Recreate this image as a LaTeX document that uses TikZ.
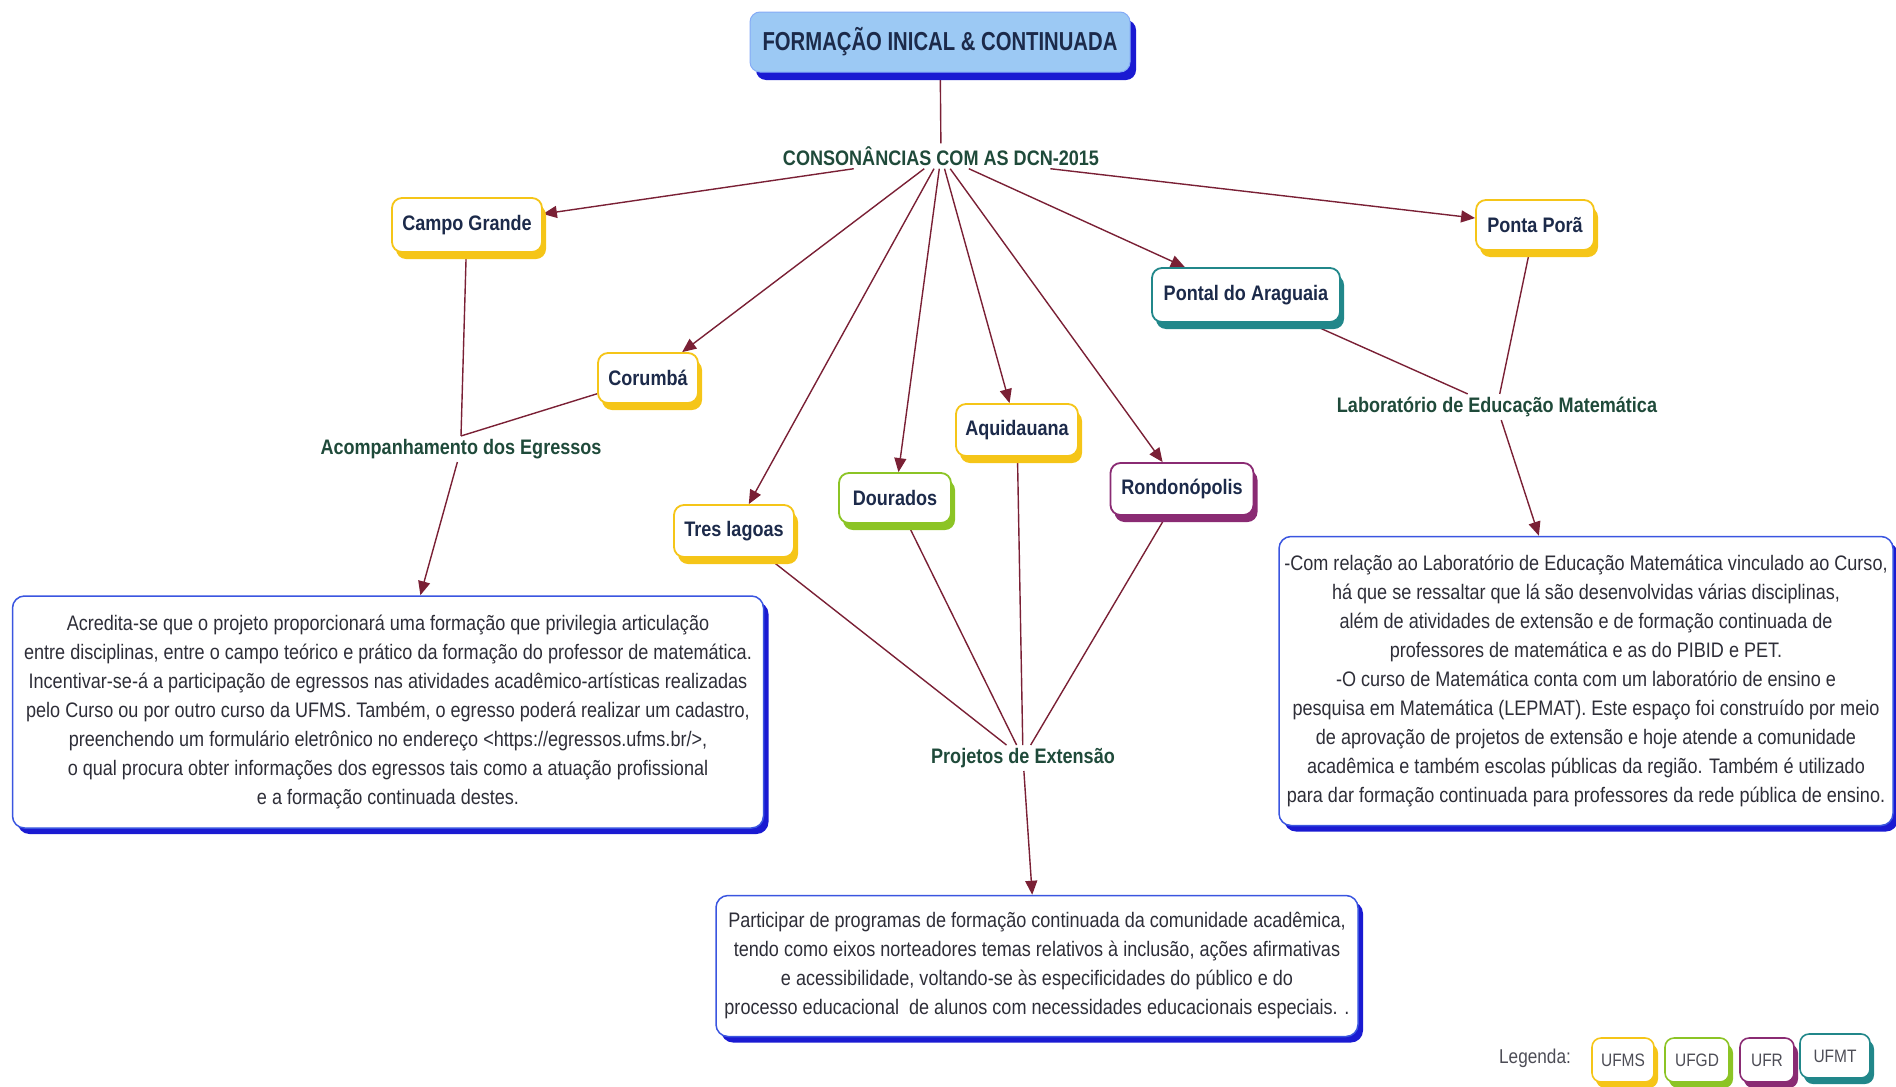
\documentclass[tikz,border=0pt]{standalone}
\usepackage{fontspec}
\setmainfont{Liberation Sans}[FakeStretch=0.86]
\newfontfamily\headfont{Liberation Sans}[FakeStretch=0.78]
\usetikzlibrary{arrows.meta,shadows,backgrounds}

\definecolor{ufms}{HTML}{F5C518}
\definecolor{ufgd}{HTML}{8CC425}
\definecolor{ufr}{HTML}{8A2B73}
\definecolor{ufmt}{HTML}{21878A}
\definecolor{linkred}{HTML}{7A2035}
\definecolor{labelgreen}{HTML}{1F4A3A}
\definecolor{navytext}{HTML}{1C2A4A}
\definecolor{boxblue}{HTML}{3A55E0}
\definecolor{shadeblue}{HTML}{1A1AD2}
\definecolor{titlefill}{HTML}{9CC9F4}
\definecolor{bodytext}{HTML}{2E2E38}

\begin{document}
\begin{tikzpicture}[x=1pt,y=-1pt,
  campus/.style={draw=#1, fill=white, line width=1.8pt, rounded corners=10pt,
    drop shadow={shadow xshift=4pt, shadow yshift=-7pt, fill=#1, opacity=1},
    text=navytext, font=\bfseries\fontsize{21}{25}\selectfont, inner sep=0pt},
  legendbox/.style={draw=#1, fill=white, line width=1.6pt, rounded corners=9pt,
    drop shadow={shadow xshift=4pt, shadow yshift=-6pt, fill=#1, opacity=1},
    text=bodytext!85, font=\fontsize{18}{20}\selectfont, inner sep=0pt,
    minimum height=44pt},
  textbox/.style={draw=boxblue, fill=white, line width=1.5pt, rounded corners=12pt,
    drop shadow={shadow xshift=5pt, shadow yshift=-6pt, fill=shadeblue, opacity=1},
    text=bodytext, align=center, font=\fontsize{21}{29}\selectfont, inner sep=0pt},
  topic/.style={text=labelgreen, font=\bfseries\fontsize{21}{25}\selectfont, inner sep=3pt},
  link/.style={draw=linkred, line width=1.4pt},
  arrowlink/.style={link, -{Triangle[length=14pt,width=12pt]}},
]
\useasboundingbox (0,0) rectangle (1896,1087);

% title
\node[fill=titlefill, draw=titlefill!85!blue, line width=1pt, rounded corners=10pt,
  drop shadow={shadow xshift=6pt, shadow yshift=-8pt, fill=shadeblue, opacity=1},
  minimum width=380pt, minimum height=60pt, text=navytext,
  font=\headfont\bfseries\fontsize{26}{30}\selectfont] (title) at (940,42)
  {FORMAÇÃO INICAL \& CONTINUADA};

% topic labels
\node[topic] (cons) at (941,156) {CONSONÂNCIAS COM AS DCN-2015};
\node[topic] (acomp) at (461,449) {Acompanhamento dos Egressos};
\node[topic] (proj) at (1023,758) {Projetos de Extensão};
\node[topic] (lab) at (1497,407) {Laboratório de Educação Matemática};

% campuses
\node[campus=ufms, minimum width=150pt, minimum height=54pt] (cg) at (467,225) {Campo Grande};
\node[campus=ufms, minimum width=100pt, minimum height=50pt] (cor) at (648,378) {Corumbá};
\node[campus=ufms, minimum width=120pt, minimum height=52pt] (tl) at (734,531) {Tres lagoas};
\node[campus=ufgd, minimum width=112pt, minimum height=50pt] (dou) at (895,498) {Dourados};
\node[campus=ufms, minimum width=122pt, minimum height=52pt] (aqu) at (1017,430) {Aquidauana};
\node[campus=ufr, minimum width=143pt, minimum height=52pt] (ron) at (1182,489) {Rondonópolis};
\node[campus=ufmt, minimum width=188pt, minimum height=54pt] (pon) at (1246,295) {Pontal do Araguaia};
\node[campus=ufms, minimum width=118pt, minimum height=50pt] (pp) at (1535,225) {Ponta Porã};

% text boxes
\node[textbox, minimum width=751pt, minimum height=232pt] (lbox) at (388,712)
  {Acredita-se que o projeto proporcionará uma formação que privilegia articulação\\
   entre disciplinas, entre o campo teórico e prático da formação do professor de matemática.\\
   Incentivar-se-á a participação de egressos nas atividades acadêmico-artísticas realizadas\\
   pelo Curso ou por outro curso da UFMS. Também, o egresso poderá realizar um cadastro,\\
   preenchendo um formulário eletrônico no endereço <https://egressos.ufms.br/>,\\
   o qual procura obter informações dos egressos tais como a atuação profissional\\
   e a formação continuada destes.};

\node[textbox, minimum width=614pt, minimum height=289pt] (rbox) at (1586,681)
  {-Com relação ao Laboratório de Educação Matemática vinculado ao Curso,\\
   há que se ressaltar que lá são desenvolvidas várias disciplinas,\\
   além de atividades de extensão e de formação continuada de\\
   professores de matemática e as do PIBID e PET.\\
   -O curso de Matemática conta com um laboratório de ensino e\\
   pesquisa em Matemática (LEPMAT). Este espaço foi construído por meio\\
   de aprovação de projetos de extensão e hoje atende a comunidade\\
   acadêmica e também escolas públicas da região. Também é utilizado\\
   para dar formação continuada para professores da rede pública de ensino.};

\node[textbox, minimum width=642pt, minimum height=141pt] (bbox) at (1037,966)
  {Participar de programas de formação continuada da comunidade acadêmica,\\
   tendo como eixos norteadores temas relativos à inclusão, ações afirmativas\\
   e acessibilidade, voltando-se às especificidades do público e do\\
   processo educacional\ \ de alunos com necessidades educacionais especiais. .};

% legend
\node[text=bodytext!85, font=\fontsize{20}{24}\selectfont, inner sep=0pt] (leg) at (1535,1058) {Legenda:};
\node[legendbox=ufms, minimum width=62pt] (lufms) at (1623,1060) {UFMS};
\node[legendbox=ufgd, minimum width=64pt] (lufgd) at (1697,1060) {UFGD};
\node[legendbox=ufr, minimum width=54pt] (lufr) at (1767,1060) {UFR};
\node[legendbox=ufmt, minimum width=70pt] (lufmt) at (1835,1056) {UFMT};

% connectors
\begin{scope}[on background layer]
  \draw[link] (title) -- (cons);
  \foreach \t in {cg,cor,tl,dou,aqu,ron,pon,pp}
    \draw[arrowlink] (cons) -- (\t);
  \draw[link] (cg) -- (acomp.north);
  \draw[link] (cor) -- (acomp.north);
  \draw[arrowlink] (acomp) -- (lbox);
  \foreach \t in {tl,dou,aqu,ron}
    \draw[link] (\t) -- (proj);
  \draw[arrowlink] (proj) -- (bbox);
  \draw[link] (pon) -- (lab);
  \draw[link] (pp) -- (lab);
  \draw[arrowlink] (lab) -- (rbox);
\end{scope}
\end{tikzpicture}
\end{document}
